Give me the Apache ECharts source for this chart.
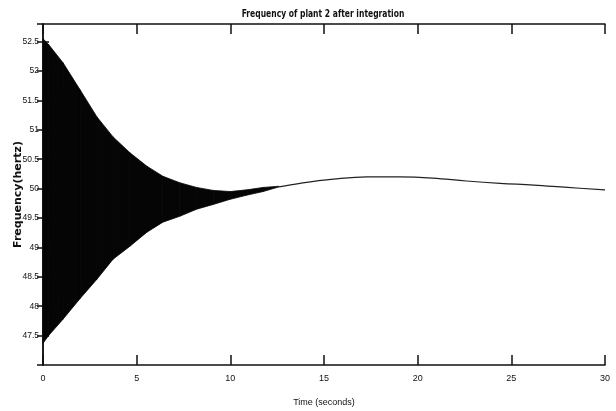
<!DOCTYPE html>
<html>
<head>
<meta charset="utf-8">
<script src="https://cdn.jsdelivr.net/npm/echarts@6/dist/echarts.min.js"></script>
<style>
  html, body { margin: 0; padding: 0; background: #fff; }
  #chart { width: 616px; height: 411px; }
</style>
</head>
<body>
<div id="chart"></div>
<script>
// envelope of the oscillating part
var bandTime  = [0, 0.3, 1.07, 1.98, 2.88, 3.74, 4.64, 5.55, 6.4, 7.3, 8.2, 9.08, 10, 10.9, 11.75, 12.6];
var bandUpper = [52.55, 52.45, 52.14, 51.68, 51.22, 50.88, 50.61, 50.38, 50.21, 50.1, 50.02, 49.97, 49.95, 49.98, 50.02, 50.04];
var bandLower = [47.37, 47.5, 47.78, 48.13, 48.46, 48.8, 49.02, 49.26, 49.43, 49.53, 49.65, 49.73, 49.82, 49.89, 49.95, 50.03];

// settled frequency after the oscillation dies out
var lineTime  = [12.6, 13.72, 15.5, 17.3, 19.06, 20.8, 22.6, 24.4, 26.2, 28, 30];
var lineValue = [50.03, 50.09, 50.16, 50.2, 50.2, 50.18, 50.13, 50.09, 50.06, 50.02, 49.98];

var font = 'Liberation Sans, Arial, sans-serif';

var bandData = bandTime.map(function (t, i) { return [t, bandLower[i], bandUpper[i]]; });
var lineData = lineTime.map(function (t, i) { return [t, lineValue[i]]; });

// one filled quad between each pair of envelope points
function renderBand(params, api) {
    var i = params.dataIndex;
    if (i >= bandTime.length - 1) return null;
    var pts = [
        api.coord([bandTime[i], bandUpper[i]]),
        api.coord([bandTime[i + 1], bandUpper[i + 1]]),
        api.coord([bandTime[i + 1], bandLower[i + 1]]),
        api.coord([bandTime[i], bandLower[i]])
    ];
    return {
        type: 'polygon',
        shape: { points: pts },
        style: { fill: '#050505', stroke: '#050505', lineWidth: 0.8 }
    };
}

var mychart = echarts.init(document.getElementById('chart'));
var option = {
    backgroundColor: '#fff',
    animation: false,
    // title as graphic text so it can be squeezed like the narrow original
    graphic: [{
        type: 'text',
        x: 323,
        y: 14,
        scaleX: 0.76,
        style: {
            text: 'Frequency of plant 2 after integration',
            font: 'bold 10px DejaVu Sans, sans-serif',
            fill: '#111',
            textAlign: 'center',
            textVerticalAlign: 'middle'
        }
    }],
    grid: { left: 43, right: 11, top: 24, bottom: 46, outerBoundsMode: 'none', containLabel: false },
    xAxis: [{
        type: 'value',
        min: 0, max: 30, interval: 5,
        name: 'Time (seconds)',
        nameLocation: 'middle',
        nameGap: 33,
        nameTextStyle: { fontFamily: font, fontSize: 9, color: '#111' },
        axisLine: { lineStyle: { color: '#111', width: 1.5 } },
        axisTick: { inside: true, length: 10, lineStyle: { color: '#111', width: 1.5 } },
        axisLabel: { fontFamily: font, fontSize: 9, color: '#111', margin: 9 },
        splitLine: { show: false }
    }, {
        type: 'value',
        position: 'top',
        min: 0, max: 30, interval: 5,
        axisLine: { show: true, lineStyle: { color: '#111', width: 1.5 } },
        axisTick: { inside: true, length: 10, lineStyle: { color: '#111', width: 1.5 } },
        axisLabel: { show: false },
        splitLine: { show: false }
    }],
    yAxis: [{
        type: 'value',
        min: 47, max: 52.8, interval: 0.5,
        name: 'Frequency(hertz)',
        nameLocation: 'middle',
        nameRotate: 90,
        nameGap: 19,
        nameMoveOverlap: false,
        nameTextStyle: { fontFamily: 'DejaVu Sans, sans-serif', fontSize: 11, fontWeight: 'bold', color: '#111' },
        axisLine: { show: true, lineStyle: { color: '#111', width: 1.5 } },
        axisTick: { show: true, inside: true, length: 6, lineStyle: { color: '#111', width: 1.5 } },
        axisLabel: {
            fontFamily: font, fontSize: 8.5, color: '#111', margin: 4,
            showMinLabel: false, showMaxLabel: false
        },
        splitLine: { show: false }
    }, {
        type: 'value',
        position: 'right',
        min: 47, max: 52.8, interval: 0.5,
        axisLine: { show: true, lineStyle: { color: '#111', width: 1.5 } },
        axisTick: { show: true, inside: true, length: 6, lineStyle: { color: '#111', width: 1.5 } },
        axisLabel: { show: false },
        splitLine: { show: false }
    }],
    series: [{
        name: 'oscillation',
        type: 'custom',
        renderItem: renderBand,
        data: bandData,
        encode: { x: 0, y: [1, 2] }
    }, {
        name: 'settled',
        type: 'line',
        data: lineData,
        symbol: 'none',
        smooth: 0.4,
        lineStyle: { color: '#222', width: 1.2 }
    }]
};
mychart.setOption(option);
</script>
</body>
</html>
